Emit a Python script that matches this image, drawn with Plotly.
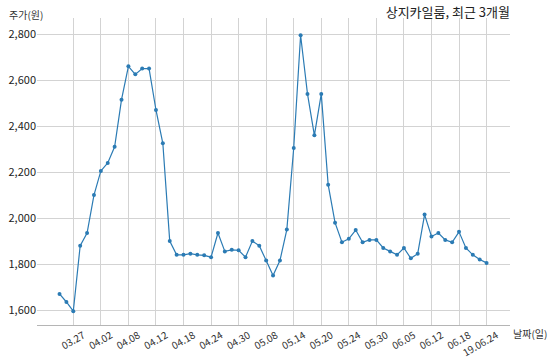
import plotly.graph_objects as go

title_text = "상지카일룸, 최근 3개월"
y_label = "주가(원)"
x_label = "날짜(일)"

prices = [
    1670, 1635, 1595, 1880, 1935, 2100, 2205, 2240, 2310, 2515,
    2660, 2625, 2650, 2650, 2470, 2325, 1900, 1840, 1840, 1845,
    1840, 1838, 1830, 1935, 1855, 1862, 1860, 1830, 1900, 1880,
    1815, 1750, 1815, 1950, 2305, 2795, 2540, 2360, 2540, 2145,
    1980, 1895, 1910, 1948, 1895, 1905, 1905, 1870, 1855, 1840,
    1870, 1825, 1845, 2015, 1920, 1935, 1905, 1895, 1940, 1870,
    1840, 1820, 1805,
]
x_index = list(range(len(prices)))

tick_positions = list(range(2, 63, 4))
tick_labels = ["03.27", "04.02", "04.08", "04.12", "04.18", "04.24", "04.30",
               "05.08", "05.14", "05.20", "05.24", "05.30", "06.05", "06.12",
               "06.18", "19.06.24"]
y_ticks = [1600, 1800, 2000, 2200, 2400, 2600, 2800]

FONT = "Noto Sans CJK KR"
LINE = "#2b7bb4"
GRID = "#d3d3d3"

fig = go.Figure()
fig.add_trace(go.Scatter(
    x=x_index, y=prices, mode="lines+markers",
    line=dict(color=LINE, width=1.2),
    marker=dict(color=LINE, size=4),
    hoverinfo="skip", showlegend=False,
))

fig.update_layout(
    width=550, height=360,
    margin=dict(l=37, r=40, t=18, b=35),
    paper_bgcolor="white", plot_bgcolor="white",
    font=dict(family=FONT, color="#222222"),
    title=dict(text=title_text, x=1, xref="paper", xanchor="right",
               y=1 - 12 / 360, yanchor="middle", yref="container",
               font=dict(family=FONT, size=13, color="#222222")),
    xaxis=dict(
        range=[-3.27, 65.4], tickmode="array", tickvals=tick_positions,
        ticktext=tick_labels, tickangle=-30, ticklabelshift=10,
        showgrid=True, gridcolor=GRID, gridwidth=1, zeroline=False,
        showline=True, linecolor="#b5b5b5", linewidth=1, automargin=False,
        ticks="", tickfont=dict(family=FONT, size=10, color="#333333"),
    ),
    yaxis=dict(
        range=[1535, 2870], tickmode="array", tickvals=y_ticks,
        tickformat=",", showgrid=True, gridcolor=GRID, gridwidth=1,
        zeroline=False, showline=False, ticks="", automargin=False,
        tickfont=dict(family=FONT, size=11, color="#222222"),
    ),
    annotations=[
        dict(text=y_label, xref="paper", yref="paper",
             x=(7 - 37) / 473, y=(325 - 15) / 307, xanchor="left", yanchor="middle",
             showarrow=False, font=dict(family=FONT, size=10, color="#333333")),
        dict(text=x_label, xref="paper", yref="paper",
             x=(511 - 37) / 473, y=(325 - 333) / 307, xanchor="left", yanchor="middle",
             showarrow=False, font=dict(family=FONT, size=10, color="#333333")),
    ],
)

fig.write_html("out.html")
